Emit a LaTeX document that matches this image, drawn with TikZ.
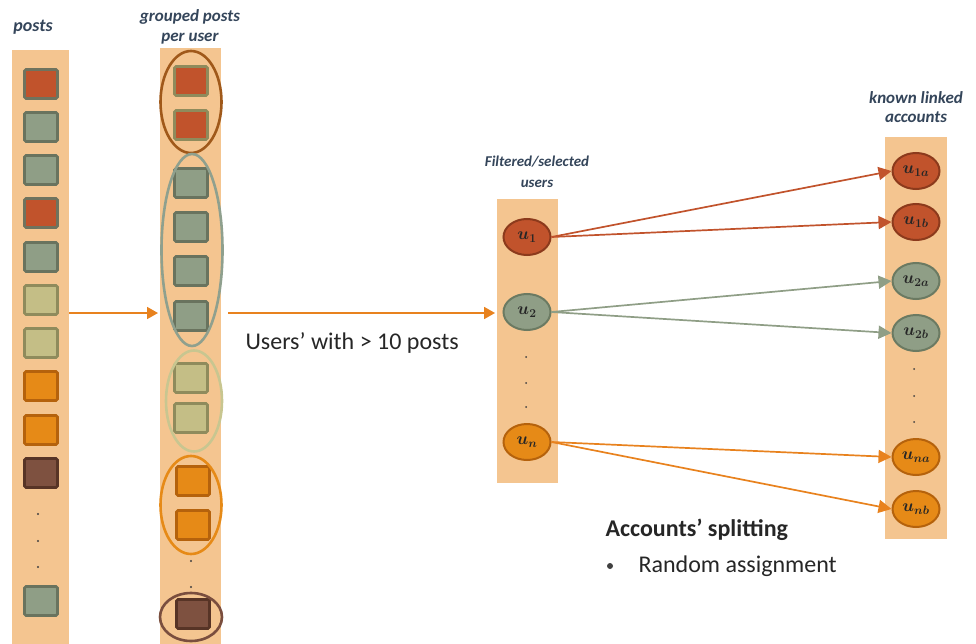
\documentclass[tikz,border=0pt]{standalone}
\usepackage{fontspec}
\setmainfont{Carlito}
\usetikzlibrary{arrows.meta,shapes.geometric}
\definecolor{strip}{HTML}{F4C590}
\definecolor{redf}{HTML}{C1532C}
\definecolor{redd}{HTML}{6F735E}
\definecolor{greyf}{HTML}{8F9E86}
\definecolor{greyd}{HTML}{69735E}
\definecolor{khakf}{HTML}{C4BE86}
\definecolor{khakd}{HTML}{8F8B5C}
\definecolor{orgf}{HTML}{E68A17}
\definecolor{orgd}{HTML}{B5620C}
\definecolor{brnf}{HTML}{7E5140}
\definecolor{brnd}{HTML}{573426}
\definecolor{titlec}{HTML}{34455A}
\definecolor{ell1}{HTML}{A0591A}
\definecolor{ell2}{HTML}{8FA08E}
\definecolor{ell3}{HTML}{C8C690}
\definecolor{ell5}{HTML}{7A4E3E}
\definecolor{arrowo}{HTML}{E8821E}
\definecolor{redline}{HTML}{8C3A1C}
\definecolor{greyline}{HTML}{6B7A62}
\tikzset{
  sq/.style={draw, line width=2.6pt, rounded corners=1.5pt, minimum width=33pt, minimum height=29pt, inner sep=0pt},
  sqred/.style={sq, fill=redf, draw=redd},
  sqred2/.style={sq, fill=redf, draw=khakd},
  sqgrey/.style={sq, fill=greyf, draw=greyd},
  sqkhak/.style={sq, fill=khakf, draw=khakd},
  sqorg/.style={sq, fill=orgf, draw=orgd},
  sqbrn/.style={sq, fill=brnf, draw=brnd},
  dotn/.style={circle, fill=black!75, inner sep=0pt, minimum size=2.2pt},
  grp/.style={ellipse, draw, line width=2.6pt, inner sep=0pt, minimum width=61pt},
  usr/.style={ellipse, draw, line width=2pt, minimum width=47pt, minimum height=36pt, inner sep=0pt, font=\fontsize{18}{20}\selectfont\boldmath, text=black!85},
  ured/.style={usr, fill=redf, draw=redline},
  ugrey/.style={usr, fill=greyf, draw=greyline},
  uorg/.style={usr, fill=orgf, draw=orgd},
  ttl/.style={text=titlec, align=center},
  flow/.style={draw=arrowo, line width=1.8pt, -{Triangle[length=11pt,width=12pt]}},
  link/.style={line width=1.7pt, -{Triangle[length=13pt,width=13pt]}},
  body/.style={font=\fontsize{24}{28}\selectfont, text=black!85}
}
\begin{document}
\begin{tikzpicture}[x=1pt,y=-1pt]
\useasboundingbox (0,0) rectangle (976,644);
% strips
\fill[strip] (12,50) rectangle (69,644);
\fill[strip] (160,48) rectangle (221,644);
\fill[strip] (497,199) rectangle (558,483);
\fill[strip] (885,137) rectangle (947,539);
% titles
\node[ttl, font=\fontsize{18}{20}\selectfont\bfseries\itshape] (tposts) at (33,27) {posts};
\node[ttl, font=\fontsize{17}{20}\selectfont\bfseries\itshape] (tgroup) at (190,27) {grouped posts\\per user};
\node[ttl, font=\fontsize{15}{21}\selectfont\bfseries\itshape] (tfilt) at (537,172) {Filtered/selected\\users};
\node[ttl, font=\fontsize{17}{19}\selectfont\bfseries\itshape] (tknown) at (916,107) {known linked\\accounts};
% left column
\node[sqred] (p1) at (41,84) {};
\node[sqgrey] (p2) at (41,127) {};
\node[sqgrey] (p3) at (41,170) {};
\node[sqred] (p4) at (41,213) {};
\node[sqgrey] (p5) at (41,257) {};
\node[sqkhak] (p6) at (41,300) {};
\node[sqkhak] (p7) at (41,343) {};
\node[sqorg] (p8) at (41,386) {};
\node[sqorg] (p9) at (41,430) {};
\node[sqbrn] (p10) at (41,473) {};
\node[dotn] (pd1) at (38,514) {};
\node[dotn] (pd2) at (38,541) {};
\node[dotn] (pd3) at (38,567) {};
\node[sqgrey] (p11) at (41,601) {};
% middle column
\node[sqred2] (g1) at (191,81) {};
\node[sqred2] (g2) at (191,125) {};
\node[sqgrey] (g3) at (191,183) {};
\node[sqgrey] (g4) at (191,227) {};
\node[sqgrey] (g5) at (191,271) {};
\node[sqgrey] (g6) at (191,316) {};
\node[sqkhak] (g7) at (191,378) {};
\node[sqkhak] (g8) at (191,418) {};
\node[sqorg] (g9) at (193,481) {};
\node[sqorg] (g10) at (193,525) {};
\node[dotn] (gd1) at (191,561) {};
\node[dotn] (gd2) at (191,587) {};
\node[sqbrn] (g11) at (193,614) {};
% group ellipses
\node[grp, draw=ell1, minimum height=102pt] (e1) at (191,102) {};
\node[grp, draw=ell2, minimum height=192pt] (e2) at (192,250) {};
\node[grp, draw=ell3, minimum width=56pt, minimum height=101pt] (e3) at (194,401) {};
\node[grp, draw=orgf, minimum height=98pt] (e4) at (191,505) {};
\node[grp, draw=ell5, minimum width=62pt, minimum height=48pt] (e5) at (191,617) {};
% flow arrows
\coordinate (a1s) at (69,313);
\coordinate (a1e) at (158,313);
\draw[flow] (a1s) -- (a1e);
\coordinate (a2s) at (228,313);
\coordinate (a2e) at (495,313);
\draw[flow] (a2s) -- (a2e);
\node[body, anchor=west] (lbl) at (242,343) {Users’ with > 10 posts};
% selected users
\node[ured] (u1) at (527,237) {$u_{1}$};
\node[ugrey] (u2) at (527,312) {$u_{2}$};
\node[dotn, minimum size=2pt] (ud1) at (526,357) {};
\node[dotn, minimum size=2pt] (ud2) at (526,383) {};
\node[dotn, minimum size=2pt] (ud3) at (526,407) {};
\node[uorg] (un) at (527,442) {$u_{n}$};
% linked accounts
\node[ured] (u1a) at (916,171) {$u_{1a}$};
\node[ured] (u1b) at (916,222) {$u_{1b}$};
\node[ugrey] (u2a) at (916,281) {$u_{2a}$};
\node[ugrey] (u2b) at (916,333) {$u_{2b}$};
\node[dotn, minimum size=2pt] (kd1) at (914,369) {};
\node[dotn, minimum size=2pt] (kd2) at (914,396) {};
\node[dotn, minimum size=2pt] (kd3) at (914,422) {};
\node[uorg] (una) at (916,457) {$u_{na}$};
\node[uorg] (unb) at (916,509) {$u_{nb}$};
% links
\draw[link, draw=redf, fill=redf] (u1.east) -- (u1a.west);
\draw[link, draw=redf, fill=redf] (u1.east) -- (u1b.west);
\draw[link, draw=greyf, fill=greyf] (u2.east) -- (u2a.west);
\draw[link, draw=greyf, fill=greyf] (u2.east) -- (u2b.west);
\draw[link, draw=arrowo, fill=arrowo] (un.east) -- (una.west);
\draw[link, draw=arrowo, fill=arrowo] (un.east) -- (unb.west);
% splitting text
\node[body, anchor=west, font=\fontsize{24}{28}\selectfont\bfseries] (split) at (602,530) {Accounts’ splitting};
\node[dotn, minimum size=6pt] (bul) at (610,566) {};
\node[body, anchor=west] (rand) at (635,566) {Random assignment};
\end{tikzpicture}
\end{document}
